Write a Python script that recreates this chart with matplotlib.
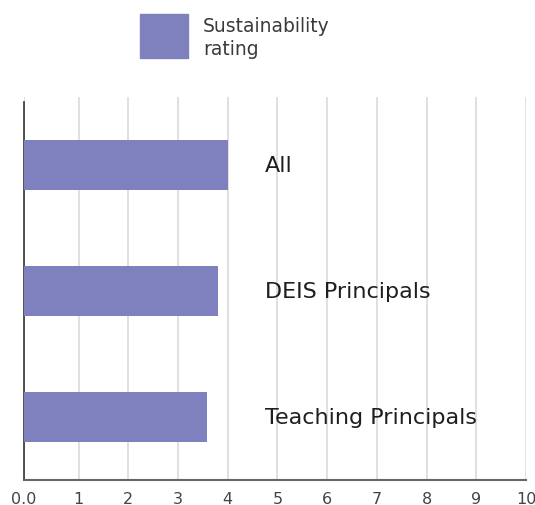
import matplotlib.pyplot as plt
from matplotlib.patches import Rectangle

# data
groups = ['All', 'DEIS Principals', 'Teaching Principals']
ratings = [4.0, 3.8, 3.58]
tick_values = [-0.1, 1, 2, 3, 4, 5, 6, 7, 8, 9, 10]
tick_labels = ['0.0', '1', '2', '3', '4', '5', '6', '7', '8', '9', '10']
legend_label = 'Sustainability\nrating'

bar_color = '#7f80be'
text_color = '#1e1e1e'

plt.rcParams['font.family'] = ['DejaVu Sans']

fig = plt.figure(figsize=(5.35, 5.06), dpi=100)
ax = fig.add_axes([24/535, 1 - 481/506, (526 - 24)/535, (481 - 98)/506])

xmin = -0.1
ypos = range(len(groups))
widths = [r - xmin for r in ratings]
ax.barh(ypos, widths, left=xmin, height=0.4, color=bar_color, zorder=3)

# labels next to bars
for y, g in zip(ypos, groups):
    ax.text(4.74, y, g, va='center', ha='left', fontsize=16, color=text_color, zorder=4)

ax.set_xlim(xmin, 10)
ax.set_ylim(2.5, -0.54)
ax.set_xticks(tick_values)
ax.set_xticklabels(tick_labels, fontsize=11.5, color='#444444')
ax.set_yticks([])
ax.tick_params(axis='x', length=0, pad=8)

ax.grid(axis='x', color='#dddddd', linewidth=1.3, zorder=0)
for s in ['top', 'right']:
    ax.spines[s].set_visible(False)
ax.spines['left'].set_color('#333333')
ax.spines['left'].set_linewidth(1.2)
ax.spines['left'].set_bounds(2.5, -0.5)
ax.spines['bottom'].set_color('#666666')
ax.spines['bottom'].set_linewidth(1.5)

# legend drawn by hand: swatch + two-line label
fig.patches.append(Rectangle((140/535, 1 - 59/506), 48/535, 44/506,
                             transform=fig.transFigure, color=bar_color))
fig.text(203/535, 1 - 38/506, legend_label, fontsize=13.5, color='#3a3a3a',
         va='center', ha='left', linespacing=1.3)

fig.savefig('out.png', dpi=100)
